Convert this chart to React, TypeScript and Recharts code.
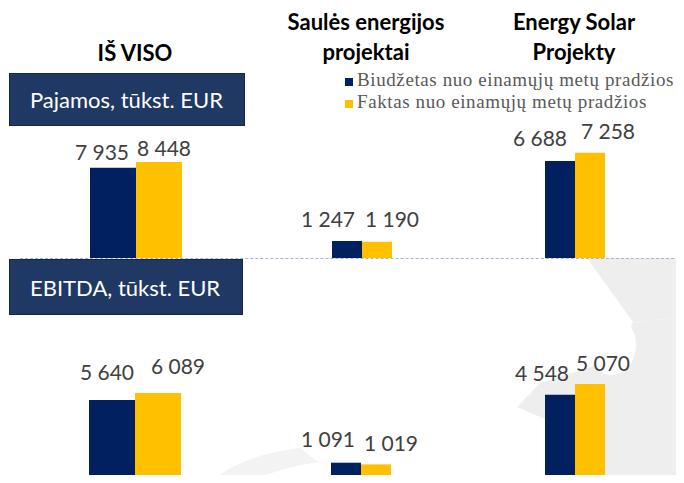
import { BarChart, Bar, XAxis, YAxis, LabelList } from "recharts";

const categories = ["IŠ VISO", "Saulės energijos projektai", "Energy Solar Projekty"];
const headerLines = [["IŠ VISO"], ["Saulės energijos", "projektai"], ["Energy Solar", "Projekty"]];
const seriesNames = ["Biudžetas nuo einamųjų metų pradžios", "Faktas nuo einamųjų metų pradžios"];
const rowTitles = ["Pajamos, tūkst. EUR", "EBITDA, tūkst. EUR"];

// tūkst. EUR
const pajamosBudget = [7935, 1247, 6688];
const pajamosFact = [8448, 1190, 7258];
const ebitdaBudget = [5640, 1091, 4548];
const ebitdaFact = [6089, 1019, 5070];

const NAVY = "#002060";
const GOLD = "#FFC000";
const SANS = "Lato, Carlito, Calibri, sans-serif";

const fmt = (v: number) => String(v).replace(/\B(?=(\d{3})+(?!\d))/g, " ");

// each category gets its own little chart with its own scale (as in the original slide)
const rows = [
  {
    baseline: 258,
    budget: pajamosBudget,
    fact: pajamosFact,
    panels: [
      { center: 135.5, barSize: 46, max: 10560, lb: [-11, 8], lf: [5, 6] },
      { center: 362, barSize: 30, max: 8800, lb: [-19, 14], lf: [15, 15] },
      { center: 575, barSize: 30, max: 8280, lb: [-20, 15], lf: [18, 14] },
    ],
  },
  {
    baseline: 488,
    budget: ebitdaBudget,
    fact: ebitdaFact,
    panels: [
      { center: 135, barSize: 46, max: 7690, lb: [-5, 20], lf: [20, 19] },
      { center: 361, barSize: 30, max: 5175, lb: [-18, 16], lf: [15, 13] },
      { center: 575, barSize: 30, max: 5850, lb: [-18, 14], lf: [13, 13] },
    ],
  },
];

const CH_W = 160;
const CH_H = 160;
const TOP_PAD = 40;

const makeLabel = (dx: number, gap: number) => (props: any) => {
  const { x, y, width, value } = props;
  return (
    <text
      x={Number(x) + Number(width) / 2 + dx}
      y={Number(y) - gap}
      textAnchor="middle"
      fill="#404040"
      fontFamily={SANS}
      fontSize={21}
    >
      {fmt(Number(value))}
    </text>
  );
};

const Panel = ({ name, budget, fact, cfg, baseline }: any) => {
  const data = [{ name, budget, fact }];
  return (
    <div style={{ position: "absolute", left: cfg.center - CH_W / 2, top: baseline - CH_H }}>
      <BarChart
        width={CH_W}
        height={CH_H}
        data={data}
        barGap={0}
        margin={{ top: TOP_PAD, right: 0, bottom: 0, left: 0 }}
      >
        <XAxis dataKey="name" hide />
        <YAxis hide domain={[0, cfg.max]} />
        <Bar dataKey="budget" fill={NAVY} barSize={cfg.barSize} isAnimationActive={false}>
          <LabelList dataKey="budget" content={makeLabel(cfg.lb[0], cfg.lb[1])} />
        </Bar>
        <Bar dataKey="fact" fill={GOLD} barSize={cfg.barSize} isAnimationActive={false}>
          <LabelList dataKey="fact" content={makeLabel(cfg.lf[0], cfg.lf[1])} />
        </Bar>
      </BarChart>
    </div>
  );
};

const boxStyle = (top: number, width: number, height: number): any => ({
  position: "absolute",
  left: 9,
  top,
  width,
  height,
  boxSizing: "border-box",
  background: "#203864",
  border: "1px solid #14254a",
  color: "#fff",
  fontFamily: SANS,
  fontSize: 22,
  display: "flex",
  alignItems: "center",
  paddingLeft: 20,
});

export default function App() {
  return (
    <div
      style={{
        position: "relative",
        width: 684,
        height: 483,
        margin: -8,
        overflow: "hidden",
        background: "#fff",
      }}
    >
      {/* faint emblem watermark */}
      <svg width={684} height={483} style={{ position: "absolute", left: 0, top: 0 }}>
        <polygon points="587,258 684,258 684,317 633,322" fill="#eeeeee" />
        <polygon
          points="633,322 684,317 684,483 600,483 587,437 517,407 540,383 613,360"
          fill="#eeeeee"
        />
        <ellipse cx={612} cy={345} rx={24} ry={30} fill="#fff" />
        <path d="M210,483 Q240,455 300,448 L318,462 Q270,470 250,483 Z" fill="#f3f3f3" />
      </svg>

      <div style={{ position: "absolute", left: 0, top: 0, width: 684, height: 3, background: "#000" }} />

      {headerLines.map((lines, i) => (
        <div
          key={i}
          style={{
            position: "absolute",
            left: [135, 366, 574][i] - 110,
            top: i === 0 ? 37.5 : 6.5,
            width: 220,
            textAlign: "center",
            fontFamily: SANS,
            fontWeight: 700,
            fontSize: 22,
            lineHeight: "30px",
            color: "#000",
          }}
        >
          {lines.map((l) => (
            <div key={l}>{l}</div>
          ))}
        </div>
      ))}

      <div
        style={{
          position: "absolute",
          left: 20,
          top: 258,
          width: 664,
          height: 0,
          borderTop: "1px dashed #a9b3cb",
        }}
      />

      {rows.map((row, r) =>
        row.panels.map((cfg, i) => (
          <Panel
            key={`${r}-${i}`}
            name={categories[i]}
            budget={row.budget[i]}
            fact={row.fact[i]}
            cfg={cfg}
            baseline={row.baseline}
          />
        ))
      )}

      <div style={boxStyle(73, 236, 53)}>{rowTitles[0]}</div>
      <div style={boxStyle(259, 234, 56)}>{rowTitles[1]}</div>

      {seriesNames.map((s, i) => (
        <div key={s}>
          <div
            style={{
              position: "absolute",
              left: 345,
              top: 78 + i * 22,
              width: 8,
              height: 8,
              background: i === 0 ? NAVY : GOLD,
            }}
          />
          <div
            style={{
              position: "absolute",
              left: 357,
              top: 69 + i * 21.6,
              height: 22,
              lineHeight: "22px",
              whiteSpace: "nowrap",
              fontFamily: "'Liberation Serif', 'Times New Roman', serif",
              fontSize: 19,
              letterSpacing: 0.6,
              color: "#595959",
            }}
          >
            {s}
          </div>
        </div>
      ))}
    </div>
  );
}
